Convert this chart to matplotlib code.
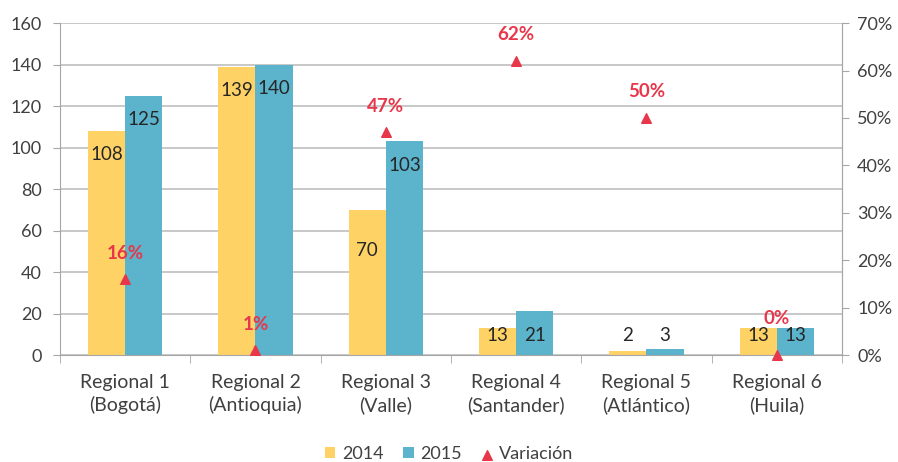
import matplotlib.pyplot as plt
from matplotlib.ticker import MultipleLocator, FuncFormatter
import numpy as np

plt.rcParams['font.family'] = ['Lato', 'DejaVu Sans']

regionales = ['Regional 1\n(Bogotá)', 'Regional 2\n(Antioquia)', 'Regional 3\n(Valle)',
              'Regional 4\n(Santander)', 'Regional 5\n(Atlántico)', 'Regional 6\n(Huila)']
v2014 = [108, 139, 70, 13, 2, 13]
v2015 = [125, 140, 103, 21, 3, 13]
variacion = [16, 1, 47, 62, 50, 0]

amarillo = '#FFD266'
azul = '#5BB3CC'
rojo = '#E8374B'
gris = '#A6A6A6'
texto = '#262626'

fig = plt.figure(figsize=(8.98, 4.62), dpi=100)
ax = fig.add_axes([0.0668, 0.2316, 0.8708, 0.7184])
x = np.arange(len(regionales))
w = 0.285

b1 = ax.bar(x - w/2, v2014, w, color=amarillo, label='2014', zorder=2)
b2 = ax.bar(x + w/2, v2015, w, color=azul, label='2015', zorder=2)

# etiquetas dentro de la barra (ajuste manual para la de 70)
ajuste = {(0, 2): -8}
for k, (bars, vals) in enumerate([(b1, v2014), (b2, v2015)]):
    for i, (b, v) in enumerate(zip(bars, vals)):
        cx = b.get_x() + b.get_width()/2
        yl = max(v - 11.5, 9.5) + ajuste.get((k, i), 0)
        ax.text(cx, yl, str(v), ha='center', va='center', fontsize=13.5, color=texto, zorder=4)

ax.set_xlim(-0.5, len(regionales) - 0.5)
ax.set_ylim(0, 160)
ax.yaxis.set_major_locator(MultipleLocator(20))
ax.grid(axis='y', color='#BFBFBF', linewidth=1.2, zorder=0)
ax.set_xticks(x)
ax.set_xticklabels(regionales, fontsize=14, color='#404040', linespacing=1.3)
ax.set_xticks(np.arange(-0.5, len(regionales)), minor=True)
ax.tick_params(axis='x', which='major', length=0, pad=14)
ax.tick_params(axis='x', which='minor', length=6, color=gris)
ax.tick_params(axis='y', length=5, color=gris, labelsize=13, labelcolor='#404040', pad=8)
ax.spines['top'].set_visible(False)
for s in ['left', 'right', 'bottom']:
    ax.spines[s].set_color(gris)

ax2 = ax.twinx()
ax2.set_ylim(0, 70)
ax2.yaxis.set_major_locator(MultipleLocator(10))
ax2.yaxis.set_major_formatter(FuncFormatter(lambda v, p: '{:.0f}%'.format(v)))
ax2.tick_params(axis='y', length=5, color=gris, labelsize=13, labelcolor='#404040', pad=6)
for s in ['top', 'left', 'bottom']:
    ax2.spines[s].set_visible(False)
ax2.spines['right'].set_color(gris)
m = ax2.scatter(x, variacion, marker='^', s=48, color=rojo, label='Variación', zorder=5, clip_on=False)
for xi, v in zip(x, variacion):
    dy = 7.6 if v == 0 else 5.5
    ax2.text(xi, v + dy, '{}%'.format(v), ha='center', va='center', fontsize=13.5,
             fontweight='bold', color=rojo, zorder=6)

handles = [b1, b2, m]
fig.legend(handles, ['2014', '2015', 'Variación'], loc='center', bbox_to_anchor=(0.5, 0.0173),
           ncol=3, frameon=False, fontsize=13, handlelength=0.6, handleheight=0.6,
           handletextpad=0.35, columnspacing=1.1, labelcolor='#404040')

fig.savefig('out.png', dpi=100)
